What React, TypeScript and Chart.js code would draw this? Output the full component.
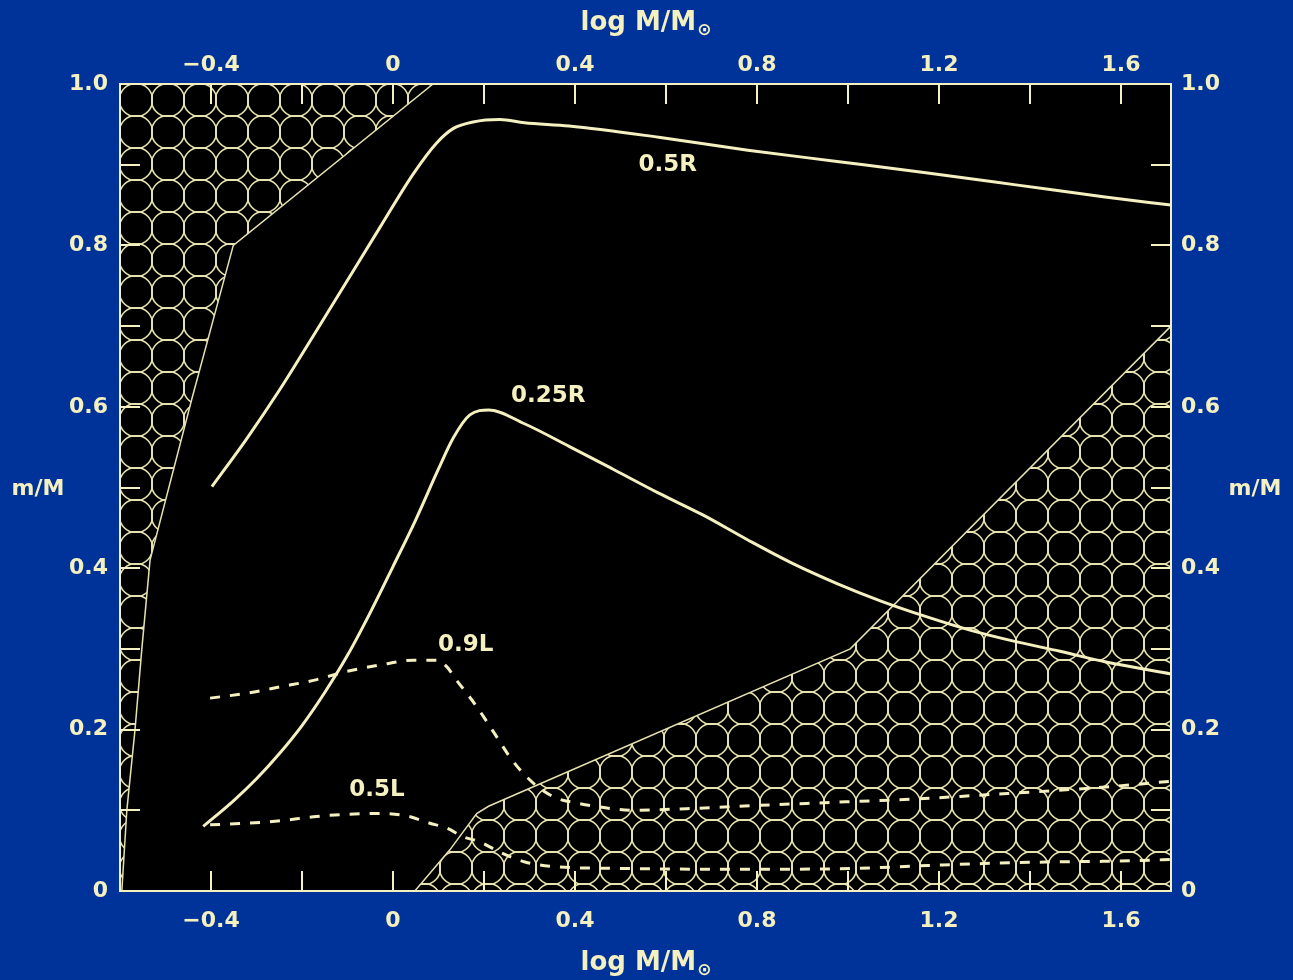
import React, { useEffect, useRef } from "react";
import { Chart, registerables } from "chart.js";

Chart.register(...registerables);

const BLUE = "#003399";
const CREAM = "#f5f0c0";
const HATCH = "#e6e2b0";
const FONT = "'DejaVu Sans', 'Liberation Sans', sans-serif";

const X_MIN = -0.6;
const X_MAX = 1.71;
const Y_MIN = 0;
const Y_MAX = 1;

const X_TICKS = [-0.4, 0, 0.4, 0.8, 1.2, 1.6];
const X_TICK_LABELS = ["\u22120.4", "0", "0.4", "0.8", "1.2", "1.6"];
const X_MINOR_TICKS = [-0.4, -0.2, 0, 0.2, 0.4, 0.6, 0.8, 1.0, 1.2, 1.4, 1.6];
const Y_TICKS = [0, 0.2, 0.4, 0.6, 0.8, 1.0];
const Y_TICK_LABELS = ["0", "0.2", "0.4", "0.6", "0.8", "1.0"];
const Y_MINOR_TICKS = [0.1, 0.2, 0.3, 0.4, 0.5, 0.6, 0.7, 0.8, 0.9];

// 0.5R (solid)
const R05_X = [-0.398, -0.322, -0.248, -0.175, -0.102, -0.029, 0.045, 0.096, 0.133, 0.176, 0.235, 0.289, 0.387, 0.584, 0.78, 0.976, 1.171, 1.369, 1.565, 1.71];
const R05_Y = [0.501, 0.56, 0.622, 0.688, 0.755, 0.822, 0.889, 0.927, 0.945, 0.953, 0.956, 0.952, 0.948, 0.934, 0.918, 0.904, 0.89, 0.875, 0.86, 0.85];

// 0.25R (solid)
const R025_X = [-0.417, -0.35, -0.3, -0.25, -0.2, -0.15, -0.1, -0.05, 0, 0.05, 0.1, 0.133, 0.169, 0.211, 0.289, 0.387, 0.486, 0.584, 0.681, 0.78, 0.878, 0.976, 1.074, 1.172, 1.27, 1.369, 1.466, 1.565, 1.71];
const R025_Y = [0.08, 0.112, 0.139, 0.17, 0.205, 0.246, 0.292, 0.345, 0.402, 0.46, 0.523, 0.562, 0.59, 0.596, 0.579, 0.551, 0.522, 0.493, 0.466, 0.435, 0.406, 0.381, 0.359, 0.34, 0.323, 0.309, 0.297, 0.284, 0.269];

// 0.9L (dashed)
const L09_X = [-0.402, -0.322, -0.248, -0.175, -0.102, -0.029, 0.045, 0.096, 0.118, 0.14, 0.173, 0.199, 0.228, 0.257, 0.286, 0.323, 0.36, 0.404, 0.455, 0.528, 0.645, 0.8, 1.019, 1.151, 1.297, 1.444, 1.59, 1.71];
const L09_Y = [0.239, 0.245, 0.253, 0.261, 0.272, 0.28, 0.286, 0.286, 0.278, 0.261, 0.237, 0.216, 0.191, 0.166, 0.146, 0.127, 0.115, 0.109, 0.104, 0.1, 0.102, 0.106, 0.111, 0.114, 0.119, 0.124, 0.13, 0.136];

// 0.5L (dashed)
const L05_X = [-0.402, -0.322, -0.248, -0.175, -0.102, -0.029, 0.03, 0.081, 0.118, 0.155, 0.191, 0.235, 0.29, 0.36, 0.5, 0.7, 0.85, 1.019, 1.151, 1.297, 1.444, 1.59, 1.71];
const L05_Y = [0.082, 0.084, 0.087, 0.092, 0.095, 0.096, 0.093, 0.084, 0.078, 0.067, 0.061, 0.048, 0.036, 0.03, 0.028, 0.027, 0.027, 0.028, 0.031, 0.034, 0.036, 0.037, 0.039];

// hatched regions (boundaries)
const HATCH_UL_X = [-0.6, -0.596, -0.585, -0.567, -0.552, -0.534, -0.442, -0.351, 0.088];
const HATCH_UL_Y = [0, 0, 0.1, 0.2, 0.3, 0.41, 0.61, 0.8, 1.0];
const HATCH_LR_X = [0.048, 0.125, 0.184, 0.21, 1.005, 1.71];
const HATCH_LR_Y = [0, 0.051, 0.096, 0.105, 0.3, 0.7];

const CURVE_LABELS = ["0.5R", "0.25R", "0.9L", "0.5L"];
const CURVE_LABEL_X = [0.604, 0.341, 0.16, -0.035];
const CURVE_LABEL_Y = [0.9, 0.613, 0.305, 0.125];

const X_TITLE = "log M/M";
const X_TITLE_SUB = "\u2299";
const Y_TITLE = "m/M";

const zip = (xs: number[], ys: number[]) => xs.map((x, i) => ({ x, y: ys[i] }));

function makePattern(): CanvasPattern | string {
  const c = document.createElement("canvas");
  const S = 32;
  c.width = S;
  c.height = S;
  const g = c.getContext("2d");
  if (!g) return HATCH;
  const r = 16.6;
  g.strokeStyle = HATCH;
  g.save();
  g.beginPath();
  g.rect(0, 0, S, S);
  g.clip();
  g.lineWidth = 1.6;
  g.beginPath();
  g.arc(S / 2, S / 2, r, 0, Math.PI * 2);
  g.stroke();
  g.restore();
  g.save();
  g.beginPath();
  g.arc(S / 2, S / 2, r, 0, Math.PI * 2);
  g.clip();
  g.lineWidth = 2;
  g.strokeRect(0, 0, S, S);
  g.restore();
  const p = g.createPattern(c, "repeat");
  return p || HATCH;
}

function tickLabel(v: number, vals: number[], labels: string[]) {
  const i = vals.findIndex((t) => Math.abs(t - v) < 1e-9);
  return i >= 0 ? labels[i] : "";
}

export default function App() {
  const ref = useRef<HTMLCanvasElement | null>(null);

  useEffect(() => {
    document.body.style.margin = "0";
    document.body.style.background = BLUE;
    const canvas = ref.current;
    if (!canvas) return;
    const pattern = makePattern();

    const framePlugin = {
      id: "frame",
      beforeDraw(chart: any) {
        const { ctx, chartArea } = chart;
        ctx.save();
        ctx.fillStyle = BLUE;
        ctx.fillRect(0, 0, chart.width, chart.height);
        ctx.fillStyle = "#000000";
        ctx.fillRect(chartArea.left, chartArea.top, chartArea.right - chartArea.left, chartArea.bottom - chartArea.top);
        ctx.restore();
      },
      beforeDatasetsDraw(chart: any) {
        const p: any = pattern;
        if (p && typeof p !== "string" && p.setTransform) {
          p.setTransform(new DOMMatrix().translate(chart.chartArea.left, chart.chartArea.top));
        }
      },
      afterDatasetsDraw(chart: any) {
        const { ctx, chartArea } = chart;
        const { left, right, top, bottom } = chartArea;
        const xs = chart.scales.x;
        const ys = chart.scales.y;
        const TL = 20;
        ctx.save();
        ctx.strokeStyle = CREAM;
        ctx.lineWidth = 2;
        ctx.beginPath();
        X_MINOR_TICKS.forEach((v) => {
          const px = Math.round(xs.getPixelForValue(v));
          ctx.moveTo(px, bottom);
          ctx.lineTo(px, bottom - TL);
          ctx.moveTo(px, top);
          ctx.lineTo(px, top + TL);
        });
        Y_MINOR_TICKS.forEach((v) => {
          const py = Math.round(ys.getPixelForValue(v));
          ctx.moveTo(left, py);
          ctx.lineTo(left + TL, py);
          ctx.moveTo(right, py);
          ctx.lineTo(right - TL, py);
        });
        ctx.stroke();
        ctx.lineWidth = 2;
        ctx.strokeRect(left, top, right - left, bottom - top);

        ctx.fillStyle = CREAM;
        ctx.font = `bold 23px ${FONT}`;
        ctx.textAlign = "center";
        ctx.textBaseline = "middle";
        CURVE_LABELS.forEach((t, i) => {
          ctx.fillText(t, xs.getPixelForValue(CURVE_LABEL_X[i]), ys.getPixelForValue(CURVE_LABEL_Y[i]));
        });
        ctx.restore();
      },
      afterDraw(chart: any) {
        const { ctx, chartArea } = chart;
        const cx = (chartArea.left + chartArea.right) / 2;
        const cy = (chartArea.top + chartArea.bottom) / 2;
        ctx.save();
        ctx.fillStyle = CREAM;
        ctx.textBaseline = "middle";
        const drawX = (y: number) => {
          ctx.font = `bold 26px ${FONT}`;
          const w1 = ctx.measureText(X_TITLE).width;
          ctx.font = `bold 17px ${FONT}`;
          const w2 = ctx.measureText(X_TITLE_SUB).width;
          const x0 = cx - (w1 + w2) / 2;
          ctx.textAlign = "left";
          ctx.font = `bold 26px ${FONT}`;
          ctx.fillText(X_TITLE, x0, y);
          ctx.font = `bold 17px ${FONT}`;
          ctx.fillText(X_TITLE_SUB, x0 + w1 + 1, y + 8);
        };
        drawX(23);
        drawX(963);
        ctx.font = `bold 22px ${FONT}`;
        ctx.textAlign = "center";
        ctx.fillText(Y_TITLE, 38, cy + 2);
        ctx.fillText(Y_TITLE, 1255, cy + 2);
        ctx.restore();
      },
    };

    const tickFont = { family: FONT, size: 22, weight: "bold" as const };
    const xScale = (position: string, h: number, pad: number) => ({
      type: "linear" as const,
      position,
      axis: "x",
      min: X_MIN,
      max: X_MAX,
      afterBuildTicks: (s: any) => {
        s.ticks = X_TICKS.map((v) => ({ value: v }));
      },
      afterFit: (s: any) => {
        s.height = h;
      },
      grid: { display: false, drawTicks: false },
      border: { display: false },
      ticks: {
        color: CREAM,
        font: tickFont,
        padding: pad,
        maxRotation: 0,
        autoSkip: false,
        callback: (v: any) => tickLabel(Number(v), X_TICKS, X_TICK_LABELS),
      },
    });
    const yScale = (position: string, w: number, pad: number) => ({
      type: "linear" as const,
      position,
      axis: "y",
      min: Y_MIN,
      max: Y_MAX,
      afterBuildTicks: (s: any) => {
        s.ticks = Y_TICKS.map((v) => ({ value: v }));
      },
      afterFit: (s: any) => {
        s.width = w;
      },
      grid: { display: false, drawTicks: false },
      border: { display: false },
      ticks: {
        color: CREAM,
        font: tickFont,
        padding: pad,
        autoSkip: false,
        callback: (v: any) => tickLabel(Number(v), Y_TICKS, Y_TICK_LABELS),
      },
    });

    const curve = (xs: number[], ys: number[], dashed: boolean) => ({
      data: zip(xs, ys),
      showLine: true,
      borderColor: CREAM,
      borderWidth: 3,
      borderDash: dashed ? [10, 10] : [],
      pointRadius: 0,
      fill: false,
      cubicInterpolationMode: "monotone" as const,
      order: 1,
    });

    const chart = new Chart(canvas, {
      type: "scatter",
      data: {
        datasets: [
          curve(R05_X, R05_Y, false),
          curve(R025_X, R025_Y, false),
          curve(L09_X, L09_Y, true),
          curve(L05_X, L05_Y, true),
          {
            data: zip(HATCH_UL_X, HATCH_UL_Y),
            showLine: true,
            borderColor: HATCH,
            borderWidth: 1.5,
            backgroundColor: pattern as any,
            fill: "end",
            pointRadius: 0,
            tension: 0,
            order: 10,
          },
          {
            data: zip(HATCH_LR_X, HATCH_LR_Y),
            showLine: true,
            borderColor: HATCH,
            borderWidth: 1.5,
            backgroundColor: pattern as any,
            fill: "start",
            pointRadius: 0,
            tension: 0,
            order: 10,
          },
        ] as any,
      },
      options: {
        animation: false,
        responsive: false,
        devicePixelRatio: 1,
        layout: { padding: 0 },
        plugins: { legend: { display: false }, tooltip: { enabled: false } },
        scales: {
          x: xScale("bottom", 89, 17),
          x2: xScale("top", 84, 6),
          y: yScale("left", 120, 12),
          y2: yScale("right", 122, 10),
        } as any,
      },
      plugins: [framePlugin],
    });

    return () => chart.destroy();
  }, []);

  return (
    <div style={{ width: 1293, height: 980, background: BLUE }}>
      <canvas ref={ref} width={1293} height={980} style={{ display: "block" }} />
    </div>
  );
}
